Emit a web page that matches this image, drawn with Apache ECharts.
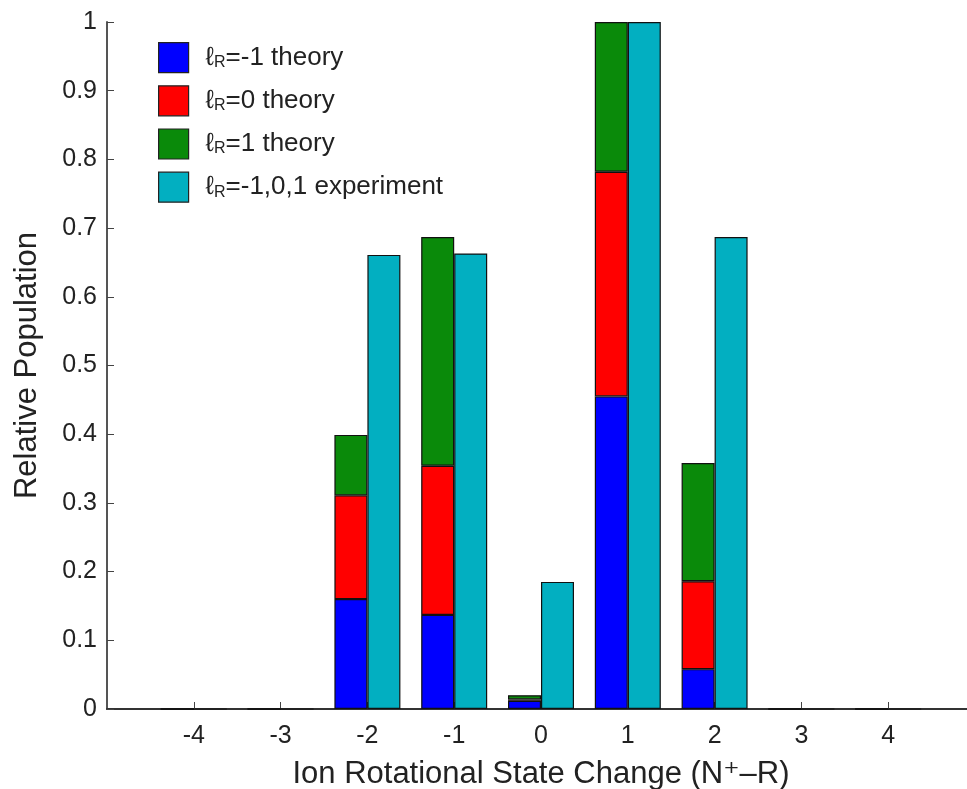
<!DOCTYPE html>
<html><head><meta charset="utf-8">
<script src="https://cdn.jsdelivr.net/npm/echarts@6/dist/echarts.min.js"></script>
<style>html,body{margin:0;padding:0;background:#fff}#c{width:967px;height:789px}</style>
</head><body><div id="c"></div>
<script>
const categories = ['-4', '-3', '-2', '-1', '0', '1', '2', '3', '4'];
const theoryM1 = [0, 0, 0.160, 0.137, 0.012, 0.455, 0.058, 0, 0];
const theory0  = [0, 0, 0.151, 0.217, 0.002, 0.327, 0.128, 0, 0];
const theoryP1 = [0, 0, 0.088, 0.333, 0.006, 0.218, 0.172, 0, 0];
const experiment = [0, 0, 0.661, 0.663, 0.185, 1.0, 0.687, 0, 0];
const yTicks = [0, 0.1, 0.2, 0.3, 0.4, 0.5, 0.6, 0.7, 0.8, 0.9, 1];
const seriesNames = ['ℓR=-1 theory', 'ℓR=0 theory', 'ℓR=1 theory', 'ℓR=-1,0,1 experiment'];
const colors = ['#0000ff', '#ff0000', '#0a8a0a', '#02afc1'];

const FONT = '"Liberation Sans", "DejaVu Sans", Arial, sans-serif';
// axis spans one empty slot beyond each end (-5 .. 5)
const axisCats = ['-5'].concat(categories, ['5']);
const pad = arr => [null].concat(arr, [null]);
const isInner = i => i > 0 && i < axisCats.length - 1;
const common = {
  type: 'bar', barWidth: 33, barGap: '0%',
  emphasis: { disabled: true }
};
const style = c => ({ color: c, borderColor: '#111', borderWidth: 1.2 });
const chart = echarts.init(document.getElementById('c'), null, { renderer: 'canvas', width: 967, height: 789 });
chart.setOption({
  animation: false,
  backgroundColor: '#fff',
  color: colors,
  grid: { left: 107, right: -8, top: 22, bottom: 80, containLabel: false, outerBoundsMode: 'none' },
  legend: {
    left: 153, top: 37, orient: 'vertical',
    itemWidth: 30, itemHeight: 30, itemGap: 12,
    icon: 'rect',
    itemStyle: { borderColor: '#222', borderWidth: 1.2 },
    data: seriesNames,
    formatter: n => '{a|ℓ}{s|R}{a|' + n.slice(2) + '}',
    textStyle: {
      fontFamily: FONT, fontSize: 26, color: '#222', padding: [0, 0, 0, 12],
      rich: {
        a: { fontFamily: FONT, fontSize: 26, color: '#222' },
        s: { fontFamily: FONT, fontSize: 16, color: '#222', verticalAlign: 'bottom', padding: [9, 0, 0, 0] }
      }
    }
  },
  xAxis: {
    type: 'category', data: axisCats, boundaryGap: false,
    name: 'Ion Rotational State Change (N⁺–R)',
    nameLocation: 'middle', nameGap: 50,
    nameTextStyle: { fontFamily: FONT, fontSize: 31, color: '#222' },
    axisLine: { show: true, lineStyle: { color: '#333', width: 2 } },
    axisTick: { show: true, inside: true, length: 7, interval: i => isInner(i), lineStyle: { color: '#444', width: 1 } },
    axisLabel: { fontFamily: FONT, fontSize: 25, color: '#222', margin: 15, interval: i => isInner(i) },
    splitLine: { show: false }
  },
  yAxis: {
    type: 'value', min: 0, max: 1, interval: 0.1,
    name: 'Relative Population',
    nameLocation: 'middle', nameGap: 64,
    nameTextStyle: { fontFamily: FONT, fontSize: 31, color: '#222' },
    axisLine: { show: true, lineStyle: { color: '#555', width: 2 } },
    axisTick: { show: true, inside: true, length: 7, lineStyle: { color: '#444', width: 1 } },
    axisLabel: { fontFamily: FONT, fontSize: 25, color: '#222', margin: 10,
      formatter: v => { const t = yTicks.find(x => Math.abs(x - v) < 1e-9); return t === undefined ? '' : String(t); } },
    splitLine: { show: false }
  },
  series: [
    Object.assign({}, common, { name: seriesNames[0], stack: 'th', data: pad(theoryM1), itemStyle: style(colors[0]) }),
    Object.assign({}, common, { name: seriesNames[1], stack: 'th', data: pad(theory0), itemStyle: style(colors[1]) }),
    Object.assign({}, common, { name: seriesNames[2], stack: 'th', data: pad(theoryP1), itemStyle: style(colors[2]) }),
    Object.assign({}, common, { name: seriesNames[3], data: pad(experiment), itemStyle: style(colors[3]) })
  ]
});
</script></body></html>
